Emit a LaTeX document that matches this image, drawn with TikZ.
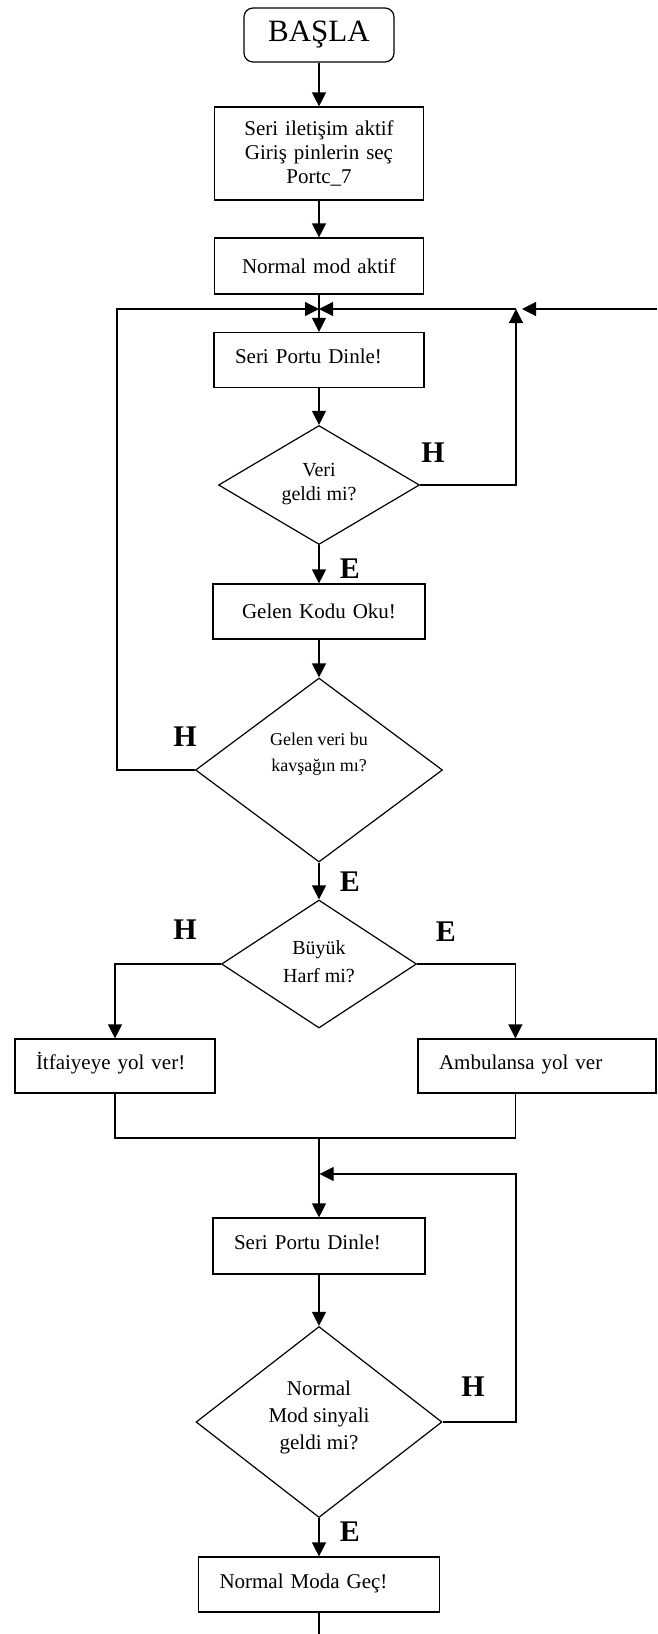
\documentclass[tikz,border=0pt]{standalone}
\usepackage{fontspec}
\setmainfont{Liberation Serif}
\usetikzlibrary{shapes.geometric,arrows.meta,calc}

\tikzset{
  flow/.style={line width=1.2pt, draw=black},
  arr/.style={flow, -{Triangle[width=14pt,length=14pt]}},
  box/.style={draw, line width=1.2pt, rectangle, inner xsep=21pt, inner ysep=0pt,
              font=\fontsize{21}{24}\selectfont},
  lbox/.style={box, align=left, text height=15pt, text depth=8pt},
  cbox/.style={box, align=center},
  dia/.style={draw, line width=1.2pt, diamond, inner sep=0pt},
  dlab/.style={align=center, inner sep=0pt},
  yn/.style={font=\fontsize{30}{30}\selectfont\bfseries, inner sep=0pt},
}

\begin{document}
\begin{tikzpicture}[x=1pt,y=-1pt]
\useasboundingbox[fill=white] (0,0) rectangle (657,1634);

% --- blocks ---
\node[draw, line width=1.2pt, rounded corners=9pt, minimum width=150pt, minimum height=54pt,
      inner sep=0pt, font=\fontsize{31}{31}\selectfont] (start) at (319,35) {BAŞLA};
\node[cbox, text width=167pt, minimum height=93pt] (init) at (319,153.5)
      {Seri iletişim aktif\\Giriş pinlerin seç\\Portc\_7};
\node[cbox, text width=167pt, minimum height=56pt] (nmode) at (319,266) {Normal mod aktif};
\node[lbox, text width=168pt, minimum height=55pt] (listen1) at (319,360) {Seri Portu Dinle!};
\node[dia, minimum width=201pt, minimum height=119pt,
      label={[dlab, name=dec1t, yshift=1pt, font=\fontsize{20}{24}\selectfont]center:{Veri\\geldi mi?}}]
      (dec1) at (319,485) {};
\node[cbox, text width=170pt, minimum height=55pt] (read) at (319,611.5) {Gelen Kodu Oku!};
\node[dia, minimum width=247pt, minimum height=184pt,
      label={[dlab, name=dec2t, yshift=16pt, font=\fontsize{18}{26}\selectfont]center:{Gelen veri bu\\kavşağın mı?}}]
      (dec2) at (319,770) {};
\node[dia, minimum width=195pt, minimum height=128pt,
      label={[dlab, name=dec3t, yshift=2pt, font=\fontsize{20}{28}\selectfont]center:{Büyük\\Harf mi?}}]
      (dec3) at (319,964) {};
\node[lbox, text width=158pt, minimum height=54pt] (itf) at (115,1066) {İtfaiyeye yol ver!};
\node[lbox, text width=196pt, minimum height=54pt] (amb) at (537,1066) {Ambulansa yol ver};
\node[lbox, text width=170pt, minimum height=56pt] (listen2) at (319,1246) {Seri Portu Dinle!};
\node[dia, minimum width=246pt, minimum height=191pt,
      label={[dlab, name=dec4t, yshift=5pt, font=\fontsize{21}{27}\selectfont]center:{Normal\\Mod sinyali\\geldi mi?}}]
      (dec4) at (319,1422) {};
\node[lbox, text width=199pt, minimum height=55pt] (moda) at (319,1584.5) {Normal Moda Geç!};

% --- branch labels ---
\node[yn] (h1) at (433,453) {H};
\node[yn] (e1) at (350,569) {E};
\node[yn] (h2) at (185,737) {H};
\node[yn] (e2) at (350,882) {E};
\node[yn] (h3) at (185,930) {H};
\node[yn] (e3) at (446,932) {E};
\node[yn] (h4) at (473,1387) {H};
\node[yn] (e4) at (350,1532) {E};

% --- junction points ---
\coordinate (j1) at (319,309);
\coordinate (j2) at (516,309);
\coordinate (jl) at (117,309);
\coordinate (edge) at (657,309);
\coordinate (m) at (319,1138);
\coordinate (j3) at (319.6,1174);
\coordinate (jr) at (516,1174);
\coordinate (bottom) at (319,1634);

% --- connectors ---
\draw[arr] (start) -- (init);
\draw[arr] (init) -- (nmode);
\draw[arr] (nmode) -- (listen1);
\draw[arr] (dec2.west) -| (jl) -- (j1);
\draw[arr] (dec1.east) -| (j2);
\draw[arr] (j2) -- (j1);
\draw[arr, shorten >=6pt] (edge) -- (j2);
\draw[arr] (listen1) -- (dec1);
\draw[arr] (dec1) -- (read);
\draw[arr] (read) -- (dec2);
\draw[arr] (dec2) -- (dec3);
\draw[arr] (dec3.west) -| (itf.north);
\draw[arr] (dec3.east) -| ($(amb.north west)+(98,0)$);
\draw[flow] (itf.south) |- (m);
\draw[flow] ($(amb.south west)+(98,0)$) |- (m);
\draw[arr] (m) -- (listen2);
\draw[arr] (dec4.east) -| (jr) -- (j3);
\draw[arr] (listen2) -- (dec4);
\draw[arr] (dec4) -- (moda);
\draw[flow] (moda.south) -- (bottom);
\end{tikzpicture}
\end{document}
